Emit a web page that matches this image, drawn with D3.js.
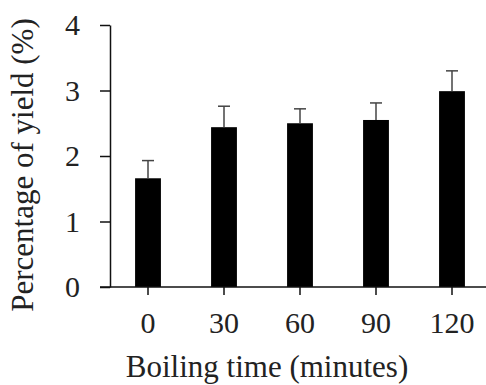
<!DOCTYPE html>
<html>
<head>
<meta charset="utf-8">
<script src="https://cdn.jsdelivr.net/npm/d3@7"></script>
<style>
    body { margin: 0; background: #fff; }
    svg { display: block; }
</style>
</head>
<body>
<svg id="chart" width="486" height="385"></svg>
<script>
const times = ["0", "30", "60", "90", "120"];
const yieldMean = [1.66, 2.44, 2.50, 2.55, 2.99];
const yieldErr = [0.27, 0.32, 0.22, 0.26, 0.31];
const yTicks = [0, 1, 2, 3, 4];

const serif = "'Liberation Serif', 'Times New Roman', serif";

const svg = d3.select("#chart"),
    w = +svg.attr("width"),
    marginLeft = 110, plotTop = 25, plotBottom = 287;

const x = d3.scaleBand()
    .domain(times)
    .range([marginLeft, 490])
    .paddingInner(0.66)
    .paddingOuter(0.33);

const y = d3.scaleLinear().domain([0, 4]).range([plotBottom, plotTop]);

// bars
svg.append("g").selectAll("rect")
    .data(times)
    .join("rect")
    .attr("x", d => x(d))
    .attr("y", (d, i) => y(yieldMean[i]))
    .attr("width", x.bandwidth())
    .attr("height", (d, i) => y(0) - y(yieldMean[i]))
    .attr("fill", "#000");

// error bars (upper only)
const err = svg.append("g")
    .attr("stroke", "#444")
    .attr("stroke-width", 1.5);
times.forEach((t, i) => {
    const cx = x(t) + x.bandwidth() / 2;
    err.append("line")
        .attr("x1", cx).attr("x2", cx)
        .attr("y1", y(yieldMean[i])).attr("y2", y(yieldMean[i] + yieldErr[i]));
    err.append("line")
        .attr("x1", cx - 6).attr("x2", cx + 6)
        .attr("y1", y(yieldMean[i] + yieldErr[i])).attr("y2", y(yieldMean[i] + yieldErr[i]));
});

// y axis
const yAxis = svg.append("g")
    .attr("transform", `translate(${marginLeft},0)`)
    .call(d3.axisLeft(y).tickValues(yTicks).tickFormat(d3.format("d"))
        .tickSize(10).tickSizeOuter(0).tickPadding(20));
yAxis.selectAll("text")
    .style("font-family", serif).style("font-size", "30px").attr("fill", "#222");
yAxis.selectAll("line, path").attr("stroke", "#111").attr("stroke-width", 1.5);

// x axis
const xAxis = svg.append("g")
    .attr("transform", `translate(0,${plotBottom})`)
    .call(d3.axisBottom(x).tickSize(8).tickSizeOuter(0).tickPadding(17));
xAxis.select(".domain").remove();
xAxis.append("line")
    .attr("x1", marginLeft - 10).attr("x2", w)
    .attr("stroke", "#111").attr("stroke-width", 1.5);
xAxis.selectAll("text")
    .style("font-family", serif).style("font-size", "30px").attr("fill", "#222");
xAxis.selectAll(".tick line").attr("stroke", "#111").attr("stroke-width", 1.5);

// axis titles
svg.append("text")
    .attr("x", 267).attr("y", 377)
    .attr("text-anchor", "middle")
    .style("font-family", serif).style("font-size", "31px").attr("fill", "#222")
    .text("Boiling time (minutes)");

svg.append("text")
    .attr("transform", "translate(33,165) rotate(-90)")
    .attr("text-anchor", "middle")
    .style("font-family", serif).style("font-size", "31px").attr("fill", "#222")
    .text("Percentage of yield (%)");
</script>
</body>
</html>
